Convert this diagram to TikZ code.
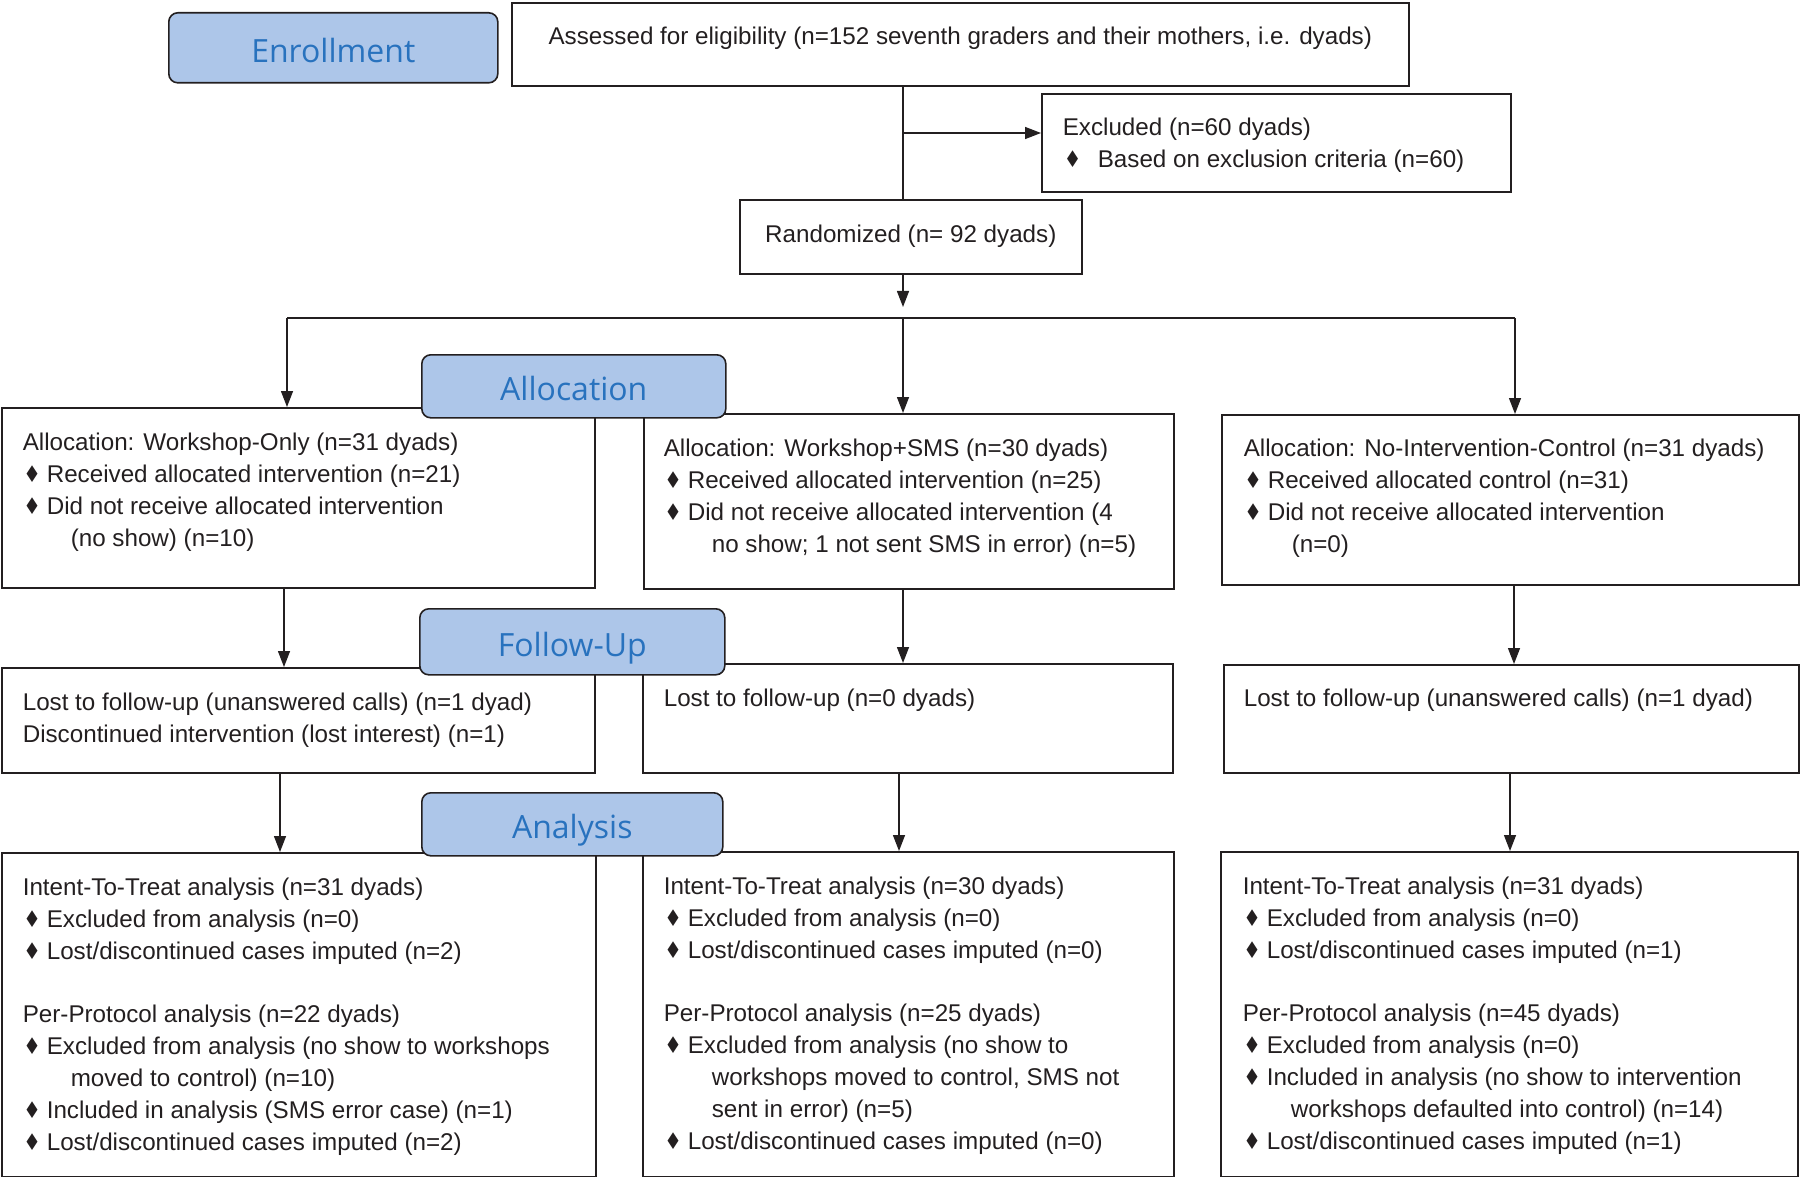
\documentclass[tikz,border=0pt]{standalone}
\usepackage{fontspec}
\usepackage{graphicx}
\setmainfont{Liberation Sans}
\newfontfamily\lblfont{Open Sans}
\newfontfamily\symfont{DejaVu Sans}
\usetikzlibrary{arrows.meta}
\definecolor{lblfill}{RGB}{173,198,233}
\definecolor{lbltext}{RGB}{40,114,190}
\definecolor{ink}{RGB}{35,31,32}
\newcommand\dia{{\symfont\fontsize{23}{23}\selectfont\scalebox{0.85}[1]{♦}}}
\newcommand\bul[1]{\makebox[24pt][l]{\hspace{0.5pt}\dia}#1}
\newcommand\cont[1]{\hspace*{48pt}#1}
\newcommand\gap{\vspace{31pt}}
\newcommand\boxtxt[5]{\parbox[c][#2][t]{#1}{\fontsize{24.2}{32}\selectfont\color{ink}\parindent=0pt\parskip=0pt\leftskip=#3\relax\vspace*{#4}\strut #5}}
\tikzset{
  flowbox/.style={draw=ink, line width=1.6pt, inner sep=0pt, anchor=north west},
  stagebox/.style={draw=ink, line width=1.6pt, fill=lblfill, rounded corners=9pt, inner sep=0pt,
    anchor=north west, text=lbltext, font=\lblfont\fontsize{32}{38}\selectfont,
    text height=35pt, text depth=6pt},
  conn/.style={draw=ink, line width=1.4pt},
  arr/.style={conn, -{Triangle[length=16pt,width=12pt]}},
}
\begin{document}
\begin{tikzpicture}[x=1pt,y=-1pt]
\useasboundingbox (0,0) rectangle (1800,1177);
% ---- boxes ----
\node[flowbox] (assess) at (511,2) {\boxtxt{897pt}{83pt}{0pt}{19.6pt}{\centering Assessed for eligibility (n=152 seventh graders and their mothers, i.e. dyads)}};
\node[flowbox] (excl) at (1041,93) {\boxtxt{469pt}{98pt}{21pt}{19.6pt}{Excluded (n=60 dyads)\par
\makebox[35pt][l]{\hspace{1pt}\dia}Based on exclusion criteria (n=60)}};
\node[flowbox] (rand) at (739,199) {\boxtxt{342pt}{74pt}{0pt}{20.6pt}{\centering Randomized (n= 92 dyads)}};

\node[flowbox] (A1) at (1,407) {\boxtxt{593pt}{180pt}{21pt}{20pt}{Allocation: Workshop-Only (n=31 dyads)\par
\bul{Received allocated intervention (n=21)}\par
\bul{Did not receive allocated intervention}\par
\cont{(no show) (n=10)}}};
\node[flowbox] (A2) at (643,413) {\boxtxt{530pt}{175pt}{20pt}{20pt}{Allocation: Workshop+SMS (n=30 dyads)\par
\bul{Received allocated intervention (n=25)}\par
\bul{Did not receive allocated intervention (4}\par
\cont{no show; 1 not sent SMS in error) (n=5)}}};
\node[flowbox] (A3) at (1221,414) {\boxtxt{577pt}{170pt}{22pt}{19pt}{Allocation: No-Intervention-Control (n=31 dyads)\par
\bul{Received allocated control (n=31)}\par
\bul{Did not receive allocated intervention}\par
\cont{(n=0)}}};

\node[flowbox] (F1) at (1,667) {\boxtxt{593pt}{105pt}{21pt}{20pt}{Lost to follow-up (unanswered calls) (n=1 dyad)\par
Discontinued intervention (lost interest) (n=1)}};
\node[flowbox] (F2) at (642,663) {\boxtxt{530pt}{109pt}{21pt}{20pt}{Lost to follow-up (n=0 dyads)}};
\node[flowbox] (F3) at (1223,664) {\boxtxt{575pt}{108pt}{20pt}{19pt}{Lost to follow-up (unanswered calls) (n=1 dyad)}};

\node[flowbox] (N1) at (1,852) {\boxtxt{594pt}{324pt}{21pt}{20pt}{Intent-To-Treat analysis (n=31 dyads)\par
\bul{Excluded from analysis (n=0)}\par
\bul{Lost/discontinued cases imputed (n=2)}\par\gap
Per-Protocol analysis (n=22 dyads)\par
\bul{Excluded from analysis (no show to workshops}\par
\cont{moved to control) (n=10)}\par
\bul{Included in analysis (SMS error case) (n=1)}\par
\bul{Lost/discontinued cases imputed (n=2)}}};
\node[flowbox] (N2) at (642,851) {\boxtxt{531pt}{325pt}{21pt}{20pt}{Intent-To-Treat analysis (n=30 dyads)\par
\bul{Excluded from analysis (n=0)}\par
\bul{Lost/discontinued cases imputed (n=0)}\par\gap
Per-Protocol analysis (n=25 dyads)\par
\bul{Excluded from analysis (no show to}\par
\cont{workshops moved to control, SMS not}\par
\cont{sent in error) (n=5)}\par
\bul{Lost/discontinued cases imputed (n=0)}}};
\node[flowbox] (N3) at (1220,851) {\boxtxt{577pt}{325pt}{22pt}{20pt}{Intent-To-Treat analysis (n=31 dyads)\par
\bul{Excluded from analysis (n=0)}\par
\bul{Lost/discontinued cases imputed (n=1)}\par\gap
Per-Protocol analysis (n=45 dyads)\par
\bul{Excluded from analysis (n=0)}\par
\bul{Included in analysis (no show to intervention}\par
\cont{workshops defaulted into control) (n=14)}\par
\bul{Lost/discontinued cases imputed (n=1)}}};

% ---- coordinates ----
\coordinate (mx) at (903,0);
\coordinate (ey) at (0,133);
\coordinate (tipr) at (903,307);
\coordinate (split) at (903,318);
\coordinate (sL) at (287,318);
\coordinate (sR) at (1515,318);
\coordinate (cL2) at (284,0);
\coordinate (cM2) at (903,0);
\coordinate (cR2) at (1514,0);
\coordinate (cL3) at (280,0);
\coordinate (cM3) at (899,0);
\coordinate (cR3) at (1510,0);

% ---- connectors ----
\draw[conn] (assess.south -| mx) -- (rand.north -| mx);
\draw[arr] (ey -| mx) -- (excl.west |- ey);
\draw[arr] (rand.south -| mx) -- (tipr);
\draw[conn] (sL) -- (sR);
\draw[arr] (sL) -- (sL |- A1.north);
\draw[arr] (split) -- (split |- A2.north);
\draw[arr] (sR) -- (sR |- A3.north);
\draw[arr] (A1.south -| cL2) -- (F1.north -| cL2);
\draw[arr] (A2.south -| cM2) -- (F2.north -| cM2);
\draw[arr] (A3.south -| cR2) -- (F3.north -| cR2);
\draw[arr] (F1.south -| cL3) -- (N1.north -| cL3);
\draw[arr] (F2.south -| cM3) -- (N2.north -| cM3);
\draw[arr] (F3.south -| cR3) -- (N3.north -| cR3);

% ---- stage labels ----
\node[stagebox, minimum width=329pt, minimum height=70pt] (enr) at (168,12) {Enrollment};
\node[stagebox, minimum width=304pt, minimum height=63pt] (alc) at (421,354) {Allocation};
\node[stagebox, minimum width=305pt, minimum height=66pt] (fol) at (419,608) {Follow-Up};
\node[stagebox, minimum width=301pt, minimum height=63pt] (ana) at (421,792) {Analysis};
\end{tikzpicture}
\end{document}
